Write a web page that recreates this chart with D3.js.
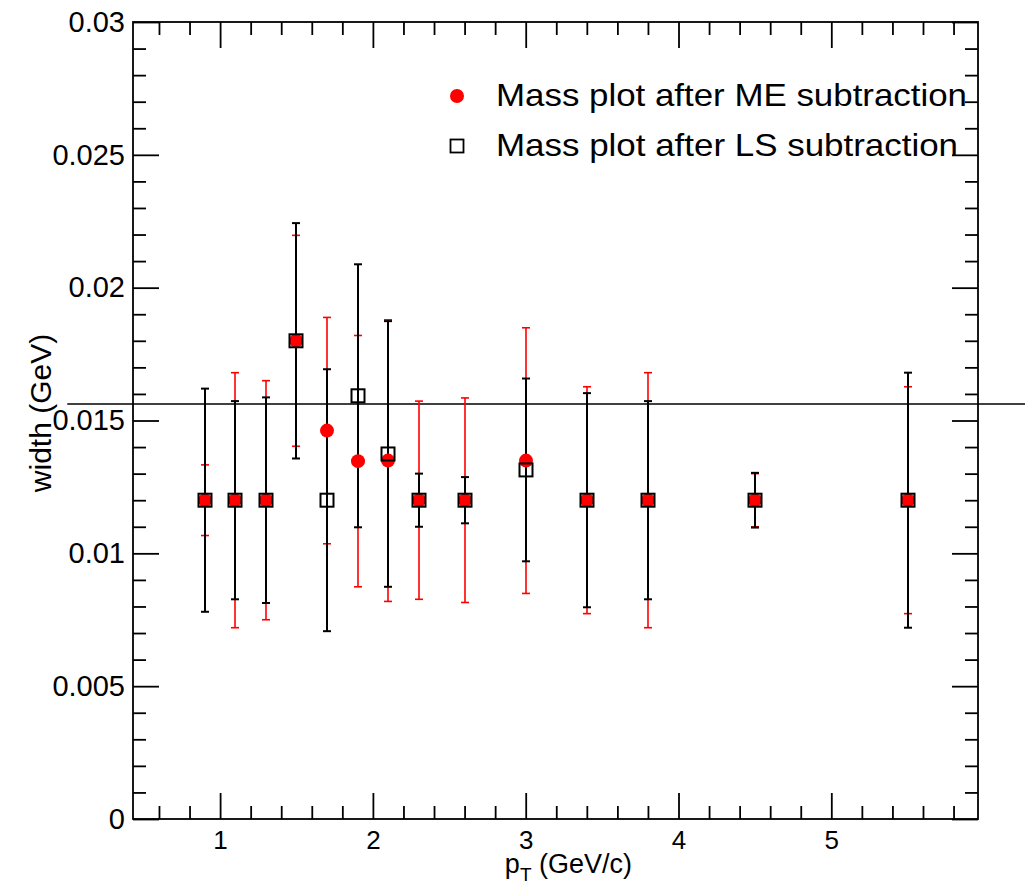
<!DOCTYPE html>
<html>
<head>
<meta charset="utf-8">
<script src="https://cdn.jsdelivr.net/npm/d3@7"></script>
<style>
  html, body { margin: 0; padding: 0; background: #fff; }
  svg { display: block; font-family: "Liberation Sans", Arial, Helvetica, sans-serif; }
</style>
</head>
<body>
<svg id="chart" width="1025" height="893"></svg>
<script>
// pT bin centres (GeV/c)
const pt = [0.9, 1.1, 1.3, 1.5, 1.7, 1.9, 2.1, 2.3, 2.6, 3.0, 3.4, 3.8, 4.5, 5.5];

// Fitted width after mixed-event (ME) background subtraction
const meWidth = [0.0120, 0.0120, 0.0120, 0.0180, 0.01462, 0.01347, 0.01349, 0.0120, 0.0120, 0.01349, 0.0120, 0.0120, 0.0120, 0.0120];
const meErr   = [0.00133, 0.0048, 0.0045, 0.00397, 0.00426, 0.00473, 0.0053, 0.00373, 0.00385, 0.0050, 0.00427, 0.0048, 0.0010, 0.00427];

// Fitted width after like-sign (LS) background subtraction
const lsWidth = [0.0120, 0.0120, 0.0120, 0.0180, 0.0120, 0.01593, 0.01374, 0.0120, 0.0120, 0.01314, 0.0120, 0.0120, 0.0120, 0.0120];
const lsErr   = [0.0042, 0.00373, 0.00387, 0.00443, 0.00493, 0.00495, 0.0050, 0.0010, 0.00087, 0.00344, 0.00403, 0.00373, 0.00103, 0.0048];

// Reference width drawn as a horizontal line
const refWidth = 0.01562;
const refRange = [0, 6.6];

// Axis ticks
const xTicks = [1, 2, 3, 4, 5];
const xTickLabels = ["1", "2", "3", "4", "5"];
const xMinor = [0.6, 0.8, 1.2, 1.4, 1.6, 1.8, 2.2, 2.4, 2.6, 2.8, 3.2, 3.4, 3.6, 3.8, 4.2, 4.4, 4.6, 4.8, 5.2, 5.4, 5.6, 5.8];
const yTicks = [0, 0.005, 0.01, 0.015, 0.02, 0.025, 0.03];
const yTickLabels = ["0", "0.005", "0.01", "0.015", "0.02", "0.025", "0.03"];
const yMinor = [0.001, 0.002, 0.003, 0.004, 0.006, 0.007, 0.008, 0.009, 0.011, 0.012, 0.013, 0.014,
                0.016, 0.017, 0.018, 0.019, 0.021, 0.022, 0.023, 0.024, 0.026, 0.027, 0.028, 0.029];

const legendLabels = ["Mass plot after ME subtraction", "Mass plot after LS subtraction"];

const svg = d3.select("#chart");
svg.append("rect").attr("width", 1025).attr("height", 893).attr("fill", "#fff");

const frame = { left: 133, right: 978, top: 22, bottom: 819 };
const x = d3.scaleLinear().domain([0.43, 5.96]).range([frame.left, frame.right]);
const y = d3.scaleLinear().domain([0, 0.03]).range([frame.bottom, frame.top]);
// pixel-snapped x for the data marks so overlapping bars line up exactly
const xs = v => Math.round(x(v));

const MAJ = 26, MIN = 13;

function styleAxis(g, fontSize) {
  g.select(".domain").remove();
  g.selectAll(".tick line").attr("stroke", "#000").attr("stroke-width", 1.8);
  g.selectAll(".tick text").attr("fill", "#000").attr("font-size", fontSize)
    .attr("font-family", "\"Liberation Sans\", Arial, sans-serif");
}

// bottom axis
const gxB = svg.append("g").attr("transform", `translate(0,${frame.bottom})`)
  .call(d3.axisBottom(x).tickValues(xTicks).tickSize(-MAJ).tickPadding(12)
    .tickFormat((d, i) => xTickLabels[i]));
styleAxis(gxB, 26);
const gxBm = svg.append("g").attr("transform", `translate(0,${frame.bottom})`)
  .call(d3.axisBottom(x).tickValues(xMinor).tickSize(-MIN).tickFormat(""));
styleAxis(gxBm, 26);

// top axis (mirror ticks)
const gxT = svg.append("g").attr("transform", `translate(0,${frame.top})`)
  .call(d3.axisTop(x).tickValues(xTicks).tickSize(-MAJ).tickFormat(""));
styleAxis(gxT, 26);
const gxTm = svg.append("g").attr("transform", `translate(0,${frame.top})`)
  .call(d3.axisTop(x).tickValues(xMinor).tickSize(-MIN).tickFormat(""));
styleAxis(gxTm, 26);

// left axis
const gyL = svg.append("g").attr("transform", `translate(${frame.left},0)`)
  .call(d3.axisLeft(y).tickValues(yTicks).tickSize(-MAJ).tickPadding(8)
    .tickFormat((d, i) => yTickLabels[i]));
styleAxis(gyL, 29);
const gyLm = svg.append("g").attr("transform", `translate(${frame.left},0)`)
  .call(d3.axisLeft(y).tickValues(yMinor).tickSize(-MIN).tickFormat(""));
styleAxis(gyLm, 29);

// right axis (mirror ticks)
const gyR = svg.append("g").attr("transform", `translate(${frame.right},0)`)
  .call(d3.axisRight(y).tickValues(yTicks).tickSize(-MAJ).tickFormat(""));
styleAxis(gyR, 29);
const gyRm = svg.append("g").attr("transform", `translate(${frame.right},0)`)
  .call(d3.axisRight(y).tickValues(yMinor).tickSize(-MIN).tickFormat(""));
styleAxis(gyRm, 29);

// frame
svg.append("rect")
  .attr("x", frame.left).attr("y", frame.top)
  .attr("width", frame.right - frame.left).attr("height", frame.bottom - frame.top)
  .attr("fill", "none").attr("stroke", "#000").attr("stroke-width", 1.8);

// axis titles
const xt = svg.append("text")
  .attr("x", 632).attr("y", 873).attr("text-anchor", "end")
  .attr("font-size", 27).attr("fill", "#000");
xt.append("tspan").text("p");
xt.append("tspan").attr("font-size", 19).attr("dy", 8).text("T");
xt.append("tspan").attr("dy", -8).text(" (GeV/c)");

svg.append("text")
  .attr("transform", "translate(51,413) rotate(-90)")
  .attr("text-anchor", "middle")
  .attr("font-size", 30).attr("fill", "#000")
  .text("width (GeV)");

// reference line
svg.append("line")
  .attr("x1", x(refRange[0])).attr("x2", x(refRange[1]))
  .attr("y1", y(refWidth)).attr("y2", y(refWidth))
  .attr("stroke", "#000").attr("stroke-width", 1.6);

const meData = pt.map((p, i) => ({ p, v: meWidth[i], e: meErr[i] }));
const lsData = pt.map((p, i) => ({ p, v: lsWidth[i], e: lsErr[i] }));

function errorBars(data, color, width) {
  const g = svg.append("g").attr("stroke", color).attr("stroke-width", width);
  const cap = 4;
  g.selectAll("line.v").data(data).join("line")
    .attr("x1", d => xs(d.p)).attr("x2", d => xs(d.p))
    .attr("y1", d => y(d.v - d.e)).attr("y2", d => y(d.v + d.e));
  g.selectAll("line.t").data(data).join("line")
    .attr("x1", d => xs(d.p) - cap).attr("x2", d => xs(d.p) + cap)
    .attr("y1", d => y(d.v + d.e)).attr("y2", d => y(d.v + d.e));
  g.selectAll("line.b").data(data).join("line")
    .attr("x1", d => xs(d.p) - cap).attr("x2", d => xs(d.p) + cap)
    .attr("y1", d => y(d.v - d.e)).attr("y2", d => y(d.v - d.e));
}

errorBars(meData, "#ff0000", 1.6);
errorBars(lsData, "#000", 2);

// ME markers: filled red circles
svg.append("g").selectAll("circle").data(meData).join("circle")
  .attr("cx", d => xs(d.p)).attr("cy", d => y(d.v)).attr("r", 7)
  .attr("fill", "#ff0000");

// LS markers: open squares
const sq = 13;
svg.append("g").selectAll("rect").data(lsData).join("rect")
  .attr("x", d => xs(d.p) - sq / 2).attr("y", d => y(d.v) - sq / 2)
  .attr("width", sq).attr("height", sq)
  .attr("fill", "none").attr("stroke", "#000").attr("stroke-width", 2);

// legend
const leg = svg.append("g");
leg.append("circle").attr("cx", 457).attr("cy", 96).attr("r", 7).attr("fill", "#ff0000");
leg.append("rect").attr("x", 457 - 6.5).attr("y", 146 - 6.5).attr("width", 13).attr("height", 13)
  .attr("fill", "none").attr("stroke", "#000").attr("stroke-width", 1.8);
leg.append("text").attr("x", 496).attr("y", 106).attr("font-size", 32).attr("fill", "#000")
  .attr("textLength", 471).attr("lengthAdjust", "spacingAndGlyphs").text(legendLabels[0]);
leg.append("text").attr("x", 496).attr("y", 156).attr("font-size", 32).attr("fill", "#000")
  .attr("textLength", 462).attr("lengthAdjust", "spacingAndGlyphs").text(legendLabels[1]);
</script>
</body>
</html>
